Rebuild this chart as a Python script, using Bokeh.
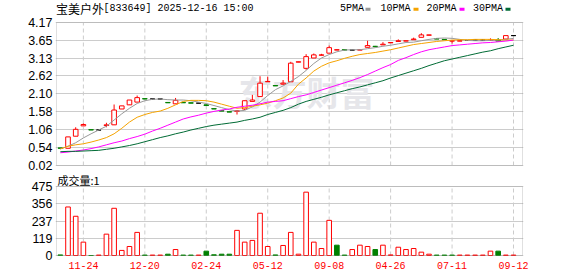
import numpy as np
from bokeh.plotting import figure
from bokeh.layouts import column
from bokeh.models import Range1d, FixedTicker, Label, ColumnDataSource, PrintfTickFormatter, BoxAnnotation
from bokeh.embed import file_html
from bokeh.resources import INLINE

# ---------------- data ----------------
title_name = "宝美户外"
title_code = "[833649] 2025-12-16 15:00"
volume_title = "成交量:1"
ma_names = ["5PMA", "10PMA", "20PMA", "30PMA"]
watermark = "东方财富"

tick_idx = [3, 11, 19, 27, 35, 43, 51, 59]
tick_labels = ["11-24", "12-20", "02-24", "05-12", "09-08", "04-26", "07-11", "09-12"]
price_ticks = [0.02, 0.54, 1.06, 1.58, 2.10, 2.62, 3.13, 3.65, 4.17]
vol_ticks = [0, 119, 237, 356, 475]

opens = [0.53, 0.52, 0.87, 1.17, 1.06, 1.05, 1.18, 1.20, 1.66, 1.78,
         1.86, 1.96, 1.95, 1.95, 1.85, 1.81, 1.85, 1.84, 1.83, 1.78,
         1.67, 1.61, 1.58, 1.59, 1.66, 1.88, 2.02, 2.45, 2.34, 2.38,
         2.45, 3.02, 2.84, 3.14, 3.22, 3.28, 3.37, 3.38, 3.37, 3.37,
         3.45, 3.48, 3.52, 3.58, 3.62, 3.63, 3.67, 3.74, 3.80, 3.70,
         3.68, 3.63, 3.63, 3.65, 3.66, 3.66, 3.65, 3.66, 3.69, 3.79]
highs = [0.53, 0.85, 1.13, 1.24, 1.06, 1.05, 1.26, 1.79, 1.75, 1.92,
         2.05, 1.96, 1.95, 1.95, 1.85, 1.98, 1.85, 1.84, 1.83, 1.79,
         1.67, 1.61, 1.58, 1.63, 1.90, 2.07, 2.61, 2.60, 2.34, 2.50,
         3.03, 3.03, 3.25, 3.27, 3.26, 3.50, 3.39, 3.38, 3.37, 3.38,
         3.64, 3.49, 3.60, 3.59, 3.68, 3.64, 3.73, 3.86, 3.81, 3.70,
         3.68, 3.64, 3.64, 3.65, 3.66, 3.66, 3.71, 3.72, 3.79, 3.79]
lows = [0.52, 0.52, 0.87, 1.17, 1.05, 1.05, 1.13, 1.20, 1.66, 1.78,
        1.86, 1.95, 1.95, 1.95, 1.84, 1.81, 1.84, 1.83, 1.83, 1.75,
        1.66, 1.60, 1.57, 1.50, 1.63, 1.88, 2.02, 2.45, 2.33, 2.36,
        2.45, 3.02, 2.80, 3.14, 3.22, 3.28, 3.37, 3.37, 3.37, 3.37,
        3.45, 3.45, 3.52, 3.58, 3.62, 3.63, 3.67, 3.74, 3.80, 3.69,
        3.67, 3.56, 3.63, 3.65, 3.66, 3.66, 3.65, 3.63, 3.69, 3.79]
closes = [0.52, 0.85, 1.07, 1.21, 1.05, 1.05, 1.20, 1.63, 1.75, 1.92,
          1.99, 1.95, 1.95, 1.95, 1.84, 1.91, 1.84, 1.83, 1.83, 1.76,
          1.66, 1.60, 1.57, 1.61, 1.90, 1.92, 2.41, 2.46, 2.33, 2.41,
          2.99, 3.03, 3.18, 3.23, 3.23, 3.44, 3.38, 3.37, 3.37, 3.38,
          3.50, 3.47, 3.54, 3.59, 3.64, 3.64, 3.69, 3.81, 3.81, 3.69,
          3.67, 3.64, 3.64, 3.65, 3.66, 3.66, 3.66, 3.63, 3.79, 3.79]
volumes = [4, 334, 270, 92, 0, 3, 147, 325, 35, 62,
           159, 3, 3, 3, 9, 41, 3, 3, 3, 30,
           5, 9, 9, 173, 92, 104, 291, 62, 4, 69,
           159, 9, 436, 92, 48, 242, 71, 3, 41, 71,
           62, 41, 71, 4, 57, 41, 48, 23, 9, 3,
           3, 3, 3, 3, 3, 3, 30, 30, 3, 3]
prior_close = 0.53

ma5 = [0.50, 0.58, 0.68, 0.82, 0.94, 1.05, 1.16, 1.34, 1.52, 1.68,
       1.82, 1.90, 1.94, 1.95, 1.93, 1.92, 1.92, 1.90, 1.86, 1.82,
       1.76, 1.70, 1.64, 1.60, 1.62, 1.72, 1.86, 2.05, 2.22, 2.33,
       2.46, 2.60, 2.78, 2.98, 3.14, 3.24, 3.32, 3.37, 3.38, 3.38,
       3.41, 3.44, 3.48, 3.51, 3.55, 3.59, 3.60, 3.64, 3.68, 3.71,
       3.72, 3.71, 3.68, 3.65, 3.64, 3.64, 3.65, 3.66, 3.68, 3.71]
ma10 = [0.50, 0.58, 0.62, 0.65, 0.70, 0.76, 0.83, 0.94, 1.10, 1.28,
        1.42, 1.50, 1.56, 1.60, 1.68, 1.78, 1.88, 1.91, 1.91, 1.90,
        1.86, 1.80, 1.74, 1.68, 1.70, 1.74, 1.78, 1.83, 1.90, 1.98,
        2.12, 2.38, 2.56, 2.76, 2.90, 3.00, 3.06, 3.13, 3.19, 3.24,
        3.27, 3.30, 3.34, 3.38, 3.43, 3.48, 3.53, 3.56, 3.59, 3.62,
        3.64, 3.66, 3.67, 3.67, 3.68, 3.68, 3.68, 3.67, 3.66, 3.66]
ma20 = [0.39, 0.41, 0.44, 0.47, 0.51, 0.56, 0.62, 0.68, 0.73, 0.80,
        0.86, 0.93, 1.02, 1.10, 1.19, 1.28, 1.37, 1.43, 1.48, 1.54,
        1.59, 1.63, 1.66, 1.71, 1.74, 1.77, 1.81, 1.86, 1.88, 1.90,
        1.96, 2.02, 2.07, 2.14, 2.21, 2.28, 2.35, 2.42, 2.49, 2.57,
        2.66, 2.76, 2.86, 2.95, 3.07, 3.15, 3.24, 3.32, 3.38, 3.42,
        3.46, 3.50, 3.52, 3.54, 3.56, 3.58, 3.59, 3.61, 3.63, 3.66]
ma30 = [0.42, 0.43, 0.43, 0.44, 0.45, 0.46, 0.49, 0.52, 0.56, 0.60,
        0.65, 0.71, 0.77, 0.83, 0.88, 0.94, 0.99, 1.05, 1.10, 1.15,
        1.19, 1.22, 1.25, 1.28, 1.33, 1.37, 1.42, 1.50, 1.56, 1.62,
        1.70, 1.80, 1.88, 1.94, 2.00, 2.07, 2.13, 2.19, 2.25, 2.30,
        2.36, 2.42, 2.48, 2.56, 2.63, 2.70, 2.77, 2.84, 2.92, 2.99,
        3.06, 3.11, 3.16, 3.21, 3.26, 3.31, 3.35, 3.41, 3.46, 3.51]

# ---------------- styles / layout ----------------
RED, GREEN, BLACK = "#ff0000", "#008000", "#000000"
MA_COLORS = ["#999999", "#f5a300", "#ff00ff", "#006b35"]
GRID = "#cccccc"
BORDER = "#999999"
W = 578
BOX_L, BOX_R = 56, 522            # pixel edges of the chart boxes
X_LEFT, X_RIGHT = -0.5, 60.17      # data x at those edges
KX = (X_RIGHT - X_LEFT) / (BOX_R - BOX_L)
P_MIN, P_MAX = 0.02, 4.17
MAIN_BOX_T, MAIN_BOX_B = 22, 165
KY = (P_MAX - P_MIN) / (MAIN_BOX_B - MAIN_BOX_T)
MAIN_H = 172
V_MAX = 475
VOL_CANVAS_T = MAIN_H
VOL_BOX_T, VOL_BOX_B = 186, 255
KV = V_MAX / (VOL_BOX_B - VOL_BOX_T)
VOL_H = 276 - MAIN_H


def px2x(px):
    return X_LEFT + (px - BOX_L) * KX


def py2p(py):
    return P_MIN + (MAIN_BOX_B - py) * KY


def py2v(py):
    return (VOL_BOX_B - py) * KV


x = np.arange(len(opens))
o = np.array(opens); c = np.array(closes)
h = np.array(highs); l = np.array(lows)
up = c > o
down = c < o
cndl_color = np.where(up, RED, np.where(down, GREEN, BLACK))
cndl_fill = np.where(down, GREEN, np.where(up, "white", BLACK))
prev = np.concatenate([[prior_close], c[:-1]])
vol_up = c >= prev
vol_line = np.where(vol_up, RED, GREEN)
vol_fill = np.where(vol_up, "white", GREEN)

src = ColumnDataSource(dict(x=x, o=o, c=c, h=h, l=l,
                            top=np.maximum(o, c), bottom=np.minimum(o, c),
                            col=cndl_color, fill=cndl_fill,
                            vol=np.array(volumes), vline=vol_line, vfill=vol_fill,
                            ma5=ma5, ma10=ma10, ma20=ma20, ma30=ma30))


def base_fig(height, canvas_top, frame_bottom_px, y_at, y_lo, y_hi):
    # frame spans from the top of the canvas down to frame_bottom_px (global pixels),
    # one pixel wider than the drawn box on the left/right/bottom
    f = figure(width=W, height=height, output_backend="svg", toolbar_location=None,
               x_range=Range1d(px2x(BOX_L - 1), px2x(BOX_R + 1)),
               y_range=Range1d(y_at(frame_bottom_px), y_at(canvas_top)),
               min_border_left=BOX_L - 1, min_border_right=W - BOX_R - 1,
               min_border_top=0, min_border_bottom=canvas_top + height - frame_bottom_px)
    f.background_fill_color = "white"
    f.border_fill_color = "white"
    f.outline_line_color = None
    f.xgrid.visible = False
    f.ygrid.grid_line_color = GRID
    f.yaxis.axis_line_color = None
    f.yaxis.major_tick_line_color = None
    f.yaxis.minor_tick_line_color = None
    f.yaxis.major_tick_out = 0
    f.yaxis.major_tick_in = 0
    f.yaxis.major_label_standoff = 3
    f.yaxis.major_label_text_font = "Liberation Sans"
    f.yaxis.major_label_text_font_size = "12.5px"
    f.yaxis.major_label_text_color = "#000000"
    # dashed vertical grid lines, only inside the chart box
    f.segment(x0=tick_idx, y0=[y_lo] * len(tick_idx), x1=tick_idx, y1=[y_hi] * len(tick_idx),
              line_color=GRID, line_width=1, line_dash="4 3")
    f.add_layout(BoxAnnotation(left=X_LEFT, right=X_RIGHT, bottom=y_lo, top=y_hi,
                               fill_color=None, fill_alpha=0,
                               line_color=BORDER, line_width=1, level="overlay"))
    return f


# ---------------- main price chart (with header row inside its canvas) ----------------
p = base_fig(MAIN_H, 0, MAIN_BOX_B + 1, py2p, P_MIN, P_MAX)
p.xaxis.visible = False
p.yaxis.ticker = FixedTicker(ticks=price_ticks)
p.ygrid.ticker = FixedTicker(ticks=price_ticks)
p.yaxis.formatter = PrintfTickFormatter(format="%.2f")

p.add_layout(Label(x=px2x(238), y=py2p(91), text=watermark, text_font="Noto Sans CJK SC",
                   text_font_size="34px", text_font_style="bold", text_color="#e6e6ea",
                   text_baseline="middle", text_align="left", level="underlay"))

p.segment(x0="x", y0="l", x1="x", y1="h", color="col", line_width=1, source=src)
p.vbar(x="x", width=0.6, top="top", bottom="bottom", fill_color="fill",
       line_color="col", line_width=1, source=src)
for key, col in zip(["ma5", "ma10", "ma20", "ma30"], MA_COLORS):
    p.line(x="x", y=key, color=col, line_width=1, source=src)

# header: title and MA legend
p.add_layout(Label(x=px2x(55.5), y=py2p(7.5), text=title_name, text_font="Noto Sans CJK SC",
                   text_font_size="12px", text_color="#000000",
                   text_baseline="middle", text_align="left"))
p.add_layout(Label(x=px2x(103), y=py2p(7.5), text=title_code, text_font="Liberation Mono",
                   text_font_size="10px", text_color="#000000",
                   text_baseline="middle", text_align="left"))
legend_text_px = [339.5, 380, 426, 472.5]
legend_swatch_px = [365, 413, 459, 505]
for name, tx in zip(ma_names, legend_text_px):
    p.add_layout(Label(x=px2x(tx), y=py2p(7.5), text=name, text_font="Liberation Mono",
                       text_font_size="10px", text_color="#000000",
                       text_baseline="middle", text_align="left"))
p.quad(left=[px2x(s) for s in legend_swatch_px], right=[px2x(s + 5) for s in legend_swatch_px],
       top=[py2p(7.3)] * 4, bottom=[py2p(10.3)] * 4, fill_color=MA_COLORS, line_color=None)

# ---------------- volume chart (title inside its canvas) ----------------
v = base_fig(VOL_H, VOL_CANVAS_T, VOL_BOX_B + 1, py2v, 0, V_MAX)
v.yaxis.ticker = FixedTicker(ticks=vol_ticks)
v.ygrid.ticker = FixedTicker(ticks=vol_ticks)
v.xaxis.ticker = FixedTicker(ticks=tick_idx)
v.xaxis.major_label_overrides = {t: s for t, s in zip(tick_idx, tick_labels)}
v.xaxis.axis_line_color = None
v.xaxis.major_tick_line_color = None
v.xaxis.minor_tick_line_color = None
v.xaxis.major_tick_out = 0
v.xaxis.major_tick_in = 0
v.xaxis.major_label_standoff = 5
v.xaxis.major_label_text_font = "Liberation Mono"
v.xaxis.major_label_text_font_size = "10px"
v.xaxis.major_label_text_color = RED

v.vbar(x="x", width=0.6, top="vol", bottom=0, fill_color="vfill",
       line_color="vline", line_width=1, source=src)
v.add_layout(Label(x=px2x(57), y=py2v(179.5), text=volume_title, text_font="Noto Sans CJK SC",
                   text_font_size="11px", text_color="#000000",
                   text_baseline="middle", text_align="left"))

layout = column(p, v, spacing=0)
open("out.html", "w").write(file_html(layout, INLINE))
